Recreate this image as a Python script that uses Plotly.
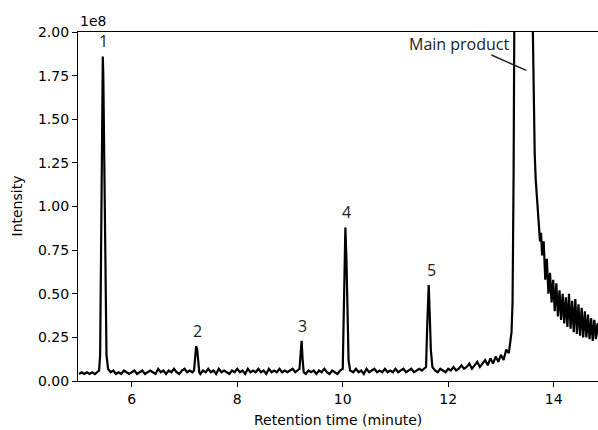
import plotly.graph_objects as go

# Chromatogram, intensity in units of 1e8
time_min = [
    5.00, 5.05, 5.10, 5.15, 5.20, 5.25, 5.30, 5.35, 5.38,
    5.40, 5.42, 5.44, 5.45, 5.46, 5.48, 5.50, 5.52, 5.55,
    5.60, 5.65, 5.70, 5.75, 5.80, 5.85, 5.90, 5.95, 6.00, 6.05, 6.10, 6.15,
    6.20, 6.25, 6.30, 6.35, 6.40, 6.45, 6.50, 6.55, 6.60, 6.65, 6.70, 6.75,
    6.80, 6.85, 6.90, 6.95, 7.00, 7.05, 7.10, 7.15,
    7.18, 7.20, 7.22, 7.24, 7.26, 7.28,
    7.30, 7.35, 7.40, 7.45, 7.50, 7.55, 7.60, 7.65, 7.70, 7.75, 7.80, 7.85,
    7.90, 7.95, 8.00, 8.05, 8.10, 8.15, 8.20, 8.25, 8.30, 8.35, 8.40, 8.45,
    8.50, 8.55, 8.60, 8.65, 8.70, 8.75, 8.80, 8.85, 8.90, 8.95, 9.00, 9.05,
    9.10, 9.15,
    9.18, 9.20, 9.22, 9.24, 9.26,
    9.30, 9.35, 9.40, 9.45, 9.50, 9.55, 9.60, 9.65, 9.70, 9.75, 9.80, 9.85,
    9.90, 9.95,
    10.00, 10.02, 10.04, 10.05, 10.07, 10.09, 10.11, 10.14,
    10.20, 10.25, 10.30, 10.35, 10.40, 10.45, 10.50, 10.55, 10.60, 10.65,
    10.70, 10.75, 10.80, 10.85, 10.90, 10.95, 11.00, 11.05, 11.10, 11.15,
    11.20, 11.25, 11.30, 11.35, 11.40, 11.45, 11.50, 11.55,
    11.58, 11.60, 11.63, 11.65, 11.67, 11.70,
    11.75, 11.80, 11.85, 11.90, 11.95, 12.00, 12.05, 12.10, 12.15, 12.20,
    12.25, 12.30, 12.35, 12.40, 12.45, 12.50, 12.55, 12.60, 12.65, 12.70,
    12.75, 12.80, 12.85, 12.90, 12.95, 13.00, 13.05, 13.10, 13.15,
    13.18, 13.20, 13.22, 13.24, 13.26, 13.30, 13.40, 13.50, 13.58,
    13.60, 13.62, 13.64, 13.66, 13.68, 13.70, 13.72, 13.74, 13.76,
    13.78, 13.81, 13.84, 13.87, 13.90, 13.93, 13.96, 13.99,
    14.02, 14.05, 14.08, 14.11, 14.14, 14.17, 14.20, 14.23, 14.26, 14.29,
    14.32, 14.35, 14.38, 14.41, 14.44, 14.47, 14.50, 14.53, 14.56, 14.59,
    14.62, 14.65, 14.68, 14.71, 14.74, 14.77, 14.80, 14.83, 14.86, 14.90,
]
intensity = [
    0.04, 0.05, 0.04, 0.05, 0.04, 0.05, 0.04, 0.05, 0.06,
    0.15, 0.90, 1.70, 1.86, 1.75, 1.10, 0.45, 0.15, 0.07,
    0.05, 0.06, 0.04, 0.05, 0.04, 0.06, 0.05, 0.04, 0.05, 0.06, 0.04, 0.05,
    0.06, 0.04, 0.05, 0.06, 0.05, 0.04, 0.07, 0.05, 0.06, 0.04, 0.06, 0.05,
    0.07, 0.05, 0.04, 0.06, 0.07, 0.05, 0.06, 0.05,
    0.06, 0.12, 0.20, 0.18, 0.09, 0.05,
    0.04, 0.06, 0.05, 0.07, 0.05, 0.06, 0.04, 0.07, 0.05, 0.06, 0.05, 0.04,
    0.06, 0.05, 0.07, 0.05, 0.06, 0.04, 0.07, 0.05, 0.06, 0.05, 0.07, 0.05,
    0.06, 0.04, 0.07, 0.05, 0.06, 0.05, 0.07, 0.05, 0.06, 0.05, 0.06, 0.07,
    0.05, 0.06,
    0.07, 0.15, 0.23, 0.12, 0.05,
    0.04, 0.06, 0.05, 0.06, 0.04, 0.06, 0.05, 0.07, 0.05, 0.04, 0.06, 0.05,
    0.04, 0.06,
    0.07, 0.40, 0.82, 0.88, 0.70, 0.35, 0.12, 0.06,
    0.05, 0.07, 0.05, 0.06, 0.04, 0.07, 0.05, 0.06, 0.07, 0.05,
    0.06, 0.05, 0.07, 0.05, 0.06, 0.05, 0.07, 0.05, 0.06, 0.07,
    0.05, 0.06, 0.07, 0.05, 0.06, 0.07, 0.06, 0.07,
    0.08, 0.30, 0.55, 0.38, 0.18, 0.08,
    0.06, 0.05, 0.07, 0.06, 0.05, 0.07, 0.06, 0.08, 0.06, 0.07,
    0.09, 0.07, 0.08, 0.10, 0.07, 0.09, 0.11, 0.08, 0.10, 0.12,
    0.09, 0.13, 0.10, 0.14, 0.11, 0.15, 0.12, 0.18, 0.16,
    0.22, 0.28, 0.45, 1.20, 2.50, 2.60, 2.70, 2.60, 2.40,
    2.10, 1.60, 1.30, 1.15, 1.05, 0.95, 0.88, 0.80, 0.85,
    0.72, 0.80, 0.58, 0.70, 0.50, 0.62, 0.45, 0.58,
    0.40, 0.56, 0.37, 0.52, 0.35, 0.50, 0.33, 0.48, 0.31, 0.50,
    0.30, 0.46, 0.28, 0.47, 0.27, 0.44, 0.26, 0.42, 0.25, 0.40,
    0.25, 0.38, 0.24, 0.36, 0.23, 0.35, 0.24, 0.33, 0.25, 0.30,
]

peak_labels = ["1", "2", "3", "4", "5"]
peak_times = [5.47, 7.24, 9.24, 10.08, 11.69]
peak_heights = [1.86, 0.20, 0.23, 0.88, 0.55]

fig = go.Figure()
fig.add_trace(
    go.Scatter(
        x=time_min,
        y=intensity,
        mode="lines",
        line=dict(color="black", width=2.2),
        showlegend=False,
    )
)

for lab, t, h in zip(peak_labels, peak_times, peak_heights):
    fig.add_annotation(
        x=t, y=h, text=lab, showarrow=False, yanchor="bottom", yshift=2,
        font=dict(family="Open Sans", size=16, color="#222"),
    )

# main product label with a short leader line
fig.add_annotation(
    x=12.21, y=1.93, text="Main product", showarrow=False,
    font=dict(family="Open Sans", size=16, color="#222"),
)
fig.add_shape(
    type="line", x0=12.82, y0=1.868, x1=13.48, y1=1.78,
    xref="x", yref="y", line=dict(color="#222", width=1.5),
)

# offset text and axis titles
fig.add_annotation(
    x=0, y=1.0, xref="paper", yref="paper", text="1e8", showarrow=False,
    xanchor="left", yanchor="bottom", yshift=1,
    font=dict(family="DejaVu Sans", size=14, color="black"),
)
fig.add_annotation(
    x=0.5, y=0, xref="paper", yref="paper", text="Retention time (minute)",
    showarrow=False, xanchor="center", yanchor="top", yshift=-29,
    font=dict(family="DejaVu Sans", size=14, color="black"),
)
fig.add_annotation(
    x=0, y=0.5, xref="paper", yref="paper", text="Intensity", textangle=-90,
    showarrow=False, xanchor="right", yanchor="middle", xshift=-52,
    font=dict(family="DejaVu Sans", size=14, color="black"),
)

fig.update_layout(
    width=598,
    height=430,
    margin=dict(l=78, r=0, t=32, b=49),
    plot_bgcolor="white",
    paper_bgcolor="white",
    font=dict(family="DejaVu Sans", size=14, color="black"),
)
fig.update_xaxes(
    range=[4.98, 14.84],
    tickvals=[6, 8, 10, 12, 14],
    automargin=False,
    showgrid=False, zeroline=False,
    showline=True, linecolor="black", linewidth=1.2, mirror=True,
    ticks="outside", ticklen=5, tickcolor="black",
)
fig.update_yaxes(
    range=[0, 2.0],
    tickvals=[0, 0.25, 0.5, 0.75, 1.0, 1.25, 1.5, 1.75, 2.0],
    tickformat=".2f",
    automargin=False,
    showgrid=False, zeroline=False,
    showline=True, linecolor="black", linewidth=1.2,
    ticks="outside", ticklen=5, tickcolor="black",
)

# drop the default page margin so the figure fills the window exactly
fig.write_html(
    "out.html",
    config={"displayModeBar": False},
    post_script="document.body.style.margin='0';document.body.style.overflow='hidden';",
)
